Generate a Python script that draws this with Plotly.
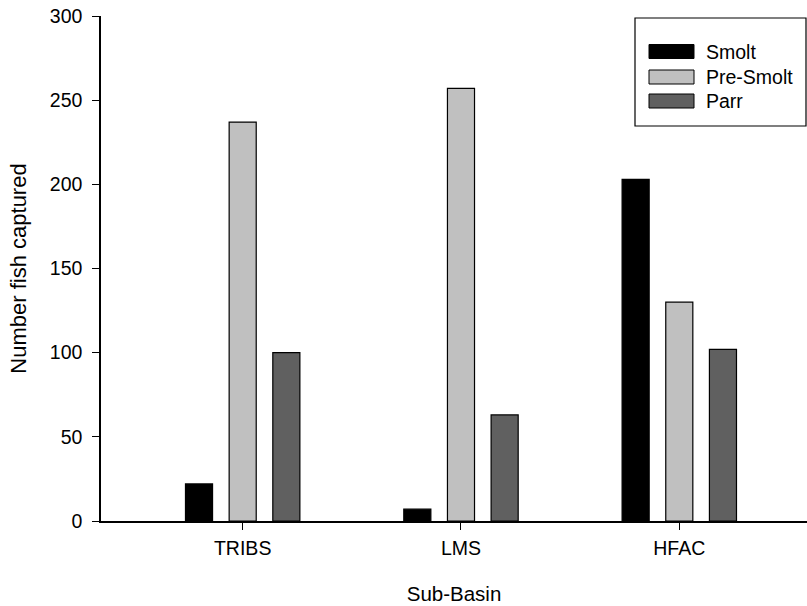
import plotly.graph_objects as go

categories = ["TRIBS", "LMS", "HFAC"]
series_names = ["Smolt", "Pre-Smolt", "Parr"]
smolt = [22, 7, 203]
pre_smolt = [237, 257, 130]
parr = [100, 63, 102]
series_values = [smolt, pre_smolt, parr]
series_colors = ["#000000", "#c0c0c0", "#606060"]
y_ticks = [0, 50, 100, 150, 200, 250, 300]

FONT = "Liberation Sans, Arial, sans-serif"
FS = 19.5
FT = 20.5
FTY = 22

fig = go.Figure()
for name, vals, col in zip(series_names, series_values, series_colors):
    fig.add_trace(go.Bar(
        x=categories, y=vals, name=name,
        marker=dict(color=col, line=dict(color="#000000", width=1.2)),
        showlegend=False,
    ))

W, H = 807, 606
ml, mr, mt, mb = 101, 0, 16, 85

fig.update_layout(
    width=W, height=H,
    margin=dict(l=ml, r=mr, t=mt, b=mb, pad=0),
    paper_bgcolor="white", plot_bgcolor="white",
    barmode="group", bargap=0.4, bargroupgap=0.38,
    font=dict(family=FONT, size=FS, color="black"),
    xaxis=dict(
        range=[-0.649, 2.585], showline=True, linecolor="black", linewidth=1.5,
        ticks="outside", ticklen=7, tickwidth=1.2, tickcolor="black",
        showgrid=False, zeroline=False, ticklabelstandoff=2,
        title=dict(text="Sub-Basin", standoff=28, font=dict(size=FT)),
    ),
    yaxis=dict(
        range=[0, 300], tickvals=y_ticks, showline=True, linecolor="black", linewidth=1.5,
        ticks="outside", ticklen=7, tickwidth=1.2, tickcolor="black",
        showgrid=False, zeroline=False, ticklabelstandoff=6,
        title=dict(text="Number fish captured", standoff=17, font=dict(size=FTY)),
    ),
)

# custom legend box (paper coords converted from pixels)
def px2x(px):
    return (px - ml) / (W - ml - mr)

def py2y(py):
    return 1 - (py - mt) / (H - mt - mb)

box_l, box_r, box_t, box_b = 635, 806, 18, 126
fig.add_shape(type="rect", xref="paper", yref="paper",
              x0=px2x(box_l), x1=px2x(box_r), y0=py2y(box_b), y1=py2y(box_t),
              line=dict(color="black", width=1.2), fillcolor="white", layer="above")
row_y = [51.5, 77, 101]
for name, col, ry in zip(series_names, series_colors, row_y):
    fig.add_shape(type="rect", xref="paper", yref="paper",
                  x0=px2x(649), x1=px2x(694), y0=py2y(ry + 7), y1=py2y(ry - 7),
                  line=dict(color="black", width=1), fillcolor=col, layer="above")
    fig.add_annotation(xref="paper", yref="paper", x=px2x(704), y=py2y(ry),
                       text=name, showarrow=False, xanchor="left", yanchor="middle",
                       font=dict(family=FONT, size=FS, color="black"))

fig.write_html("out.html")
